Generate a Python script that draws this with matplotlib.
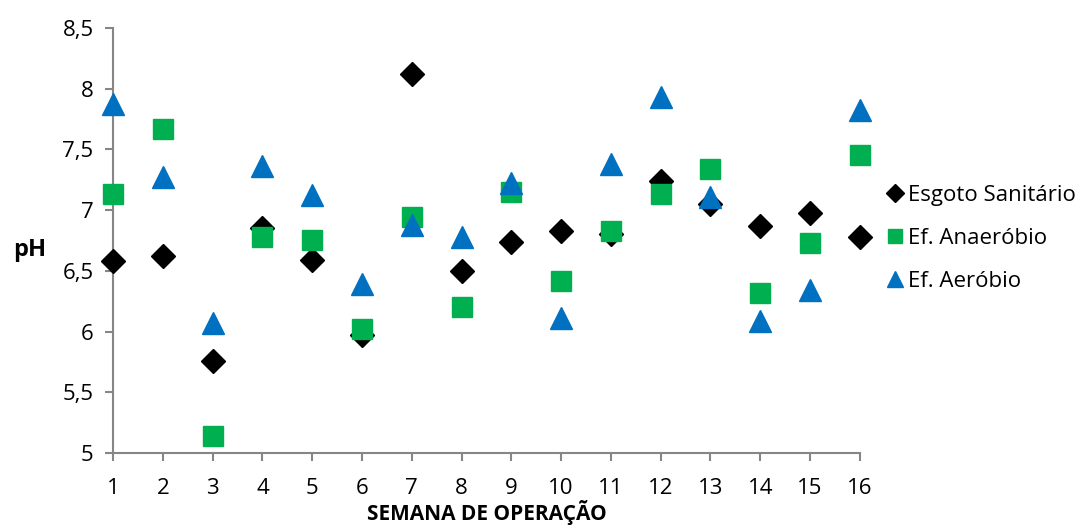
import numpy as np
import matplotlib
matplotlib.use("Agg")
import matplotlib.pyplot as plt

plt.rcParams['font.family'] = ['Open Sans', 'DejaVu Sans']

# semana de operacao
semanas = np.arange(1, 17)

# pH - esgoto sanitario
esgoto = [6.58, 6.62, 5.76, 6.85, 6.59, 5.97, 8.12, 6.50,
          6.74, 6.83, 6.80, 7.24, 7.05, 6.87, 6.98, 6.78]
# pH - efluente anaerobio
anaerobio = [7.13, 7.67, 5.14, 6.78, 6.75, 6.02, 6.94, 6.20,
             7.15, 6.42, 6.83, 7.13, 7.34, 6.32, 6.73, 7.45]
# pH - efluente aerobio
aerobio = [7.87, 7.27, 6.07, 7.36, 7.12, 6.39, 6.88, 6.78,
           7.22, 6.11, 7.38, 7.93, 7.11, 6.09, 6.34, 7.82]

yticks = [5, 5.5, 6, 6.5, 7, 7.5, 8, 8.5]
ytick_labels = ["5", "5,5", "6", "6,5", "7", "7,5", "8", "8,5"]

fig = plt.figure(figsize=(10.87, 5.25), dpi=100)
ax = fig.add_axes([0.104, 0.137, 0.687, 0.810])

ax.plot(semanas, esgoto, marker='D', color='black', linestyle='None',
        markersize=12.5, label="Esgoto Sanitário", zorder=3, clip_on=False)
ax.plot(semanas, anaerobio, marker='s', color='#00B050', linestyle='None',
        markersize=14.5, label="Ef. Anaeróbio", zorder=4, clip_on=False)
ax.plot(semanas, aerobio, marker='^', color='#0070C0', linestyle='None',
        markersize=15.5, label="Ef. Aeróbio", zorder=5, clip_on=False)

ax.set_xlim(1, 16)
ax.set_ylim(5, 8.5)
ax.set_xticks(semanas)
ax.set_yticks(yticks)
ax.set_yticklabels(ytick_labels)

gray = '#868686'
for s in ['top', 'right']:
    ax.spines[s].set_visible(False)
for s in ['left', 'bottom']:
    ax.spines[s].set_color(gray)
    ax.spines[s].set_linewidth(1.5)
ax.tick_params(axis='x', direction='out', length=6, width=1.5, color=gray,
               labelsize=16, pad=12)
ax.tick_params(axis='y', direction='out', length=6, width=1.5, color=gray,
               labelsize=16, pad=8)

ax.set_xlabel("SEMANA DE OPERAÇÃO", fontsize=15, fontweight='bold', va='center')
ax.xaxis.set_label_coords(0.5, -0.140)
ax.set_ylabel("pH", fontsize=17, fontweight='bold', rotation=0)
ax.yaxis.set_label_coords(-0.112, 0.45)

leg = ax.legend(loc='center left', bbox_to_anchor=(1.01, 0.505), frameon=False,
                fontsize=16, handlelength=0.7, handletextpad=0.25,
                labelspacing=1.0, markerscale=0.7)

fig.savefig("out.png", dpi=100)
